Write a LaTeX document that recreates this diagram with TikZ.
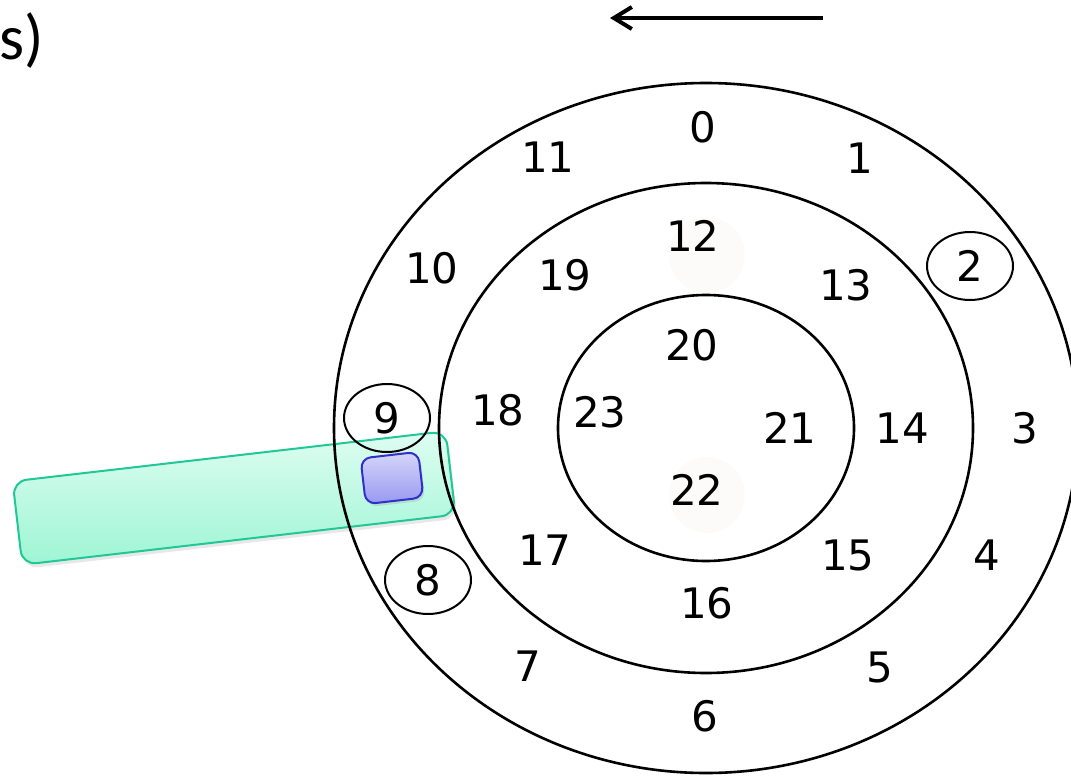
\documentclass[tikz,border=0pt]{standalone}
\usepackage{fontspec}
\setmainfont{DejaVu Sans}
\newfontfamily\calfont{Carlito}
\usetikzlibrary{arrows.meta,shapes.geometric,shadows}
\definecolor{armline}{RGB}{32,200,150}
\definecolor{armtop}{RGB}{222,253,242}
\definecolor{armbot}{RGB}{158,245,212}
\definecolor{headline}{RGB}{48,48,200}
\definecolor{headtop}{RGB}{214,214,250}
\definecolor{headbot}{RGB}{152,152,242}
\definecolor{faint}{RGB}{252,251,249}
\tikzset{
  num/.style={font=\fontsize{21}{24}\selectfont,inner sep=0pt},
  ring/.style={draw,ellipse,line width=1pt,minimum width=43pt,minimum height=34pt},
  spur/.style={line width=1.3pt},
  halo/.style={fill=faint,draw=none},
  arm/.style={draw=armline,line width=1pt,rounded corners=7pt,top color=armtop,
    bottom color=armbot,minimum width=218pt,minimum height=42pt,rotate=6.6,
    drop shadow={opacity=0.18,shadow xshift=1pt,shadow yshift=-2pt}},
  head/.style={draw=headline,line width=1pt,rounded corners=5pt,top color=headtop,
    bottom color=headbot,minimum width=29pt,minimum height=23pt,rotate=6.6,
    drop shadow={opacity=0.2,shadow xshift=1pt,shadow yshift=-1.5pt}},
  nyil/.style={line width=2pt,-{Straight Barb[length=9pt,width=11pt]}},
}
\begin{document}
\begin{tikzpicture}[x=0.5pt,y=-0.5pt]
  \useasboundingbox (0,0) rectangle (1071,776);
  \node[font=\calfont\fontsize{32}{34}\selectfont,anchor=base east,inner sep=0pt]
    (part) at (44,59) {s)};
  % direction of rotation
  \coordinate (arrR) at (823,18);
  \coordinate (arrL) at (610,18);
  \draw[nyil] (arrR) -- (arrL);
  % faint spots
  \fill[halo] (707,255) circle [radius=38];
  \fill[halo] (707,495) circle [radius=38];
  % arm and head
  \node[arm] (arm) at (234,498) {};
  \coordinate (c) at (706,428);
  \draw[spur] (c) ellipse [x radius=372,y radius=345];
  \draw[spur] (c) ellipse [x radius=267,y radius=245];
  \draw[spur] (c) ellipse [x radius=148,y radius=133];
  \node[head] (hd) at (392,478) {};
  % sector numbers
  \foreach \n/\x/\y in {0/703/127,1/860/158,3/1025/428,4/987/555,5/880/667,
      6/705/716,7/528/666,10/432/268,11/548/157,12/693/236,13/846/285,
      14/902/428,15/848/555,16/707/603,17/545/550,18/498/410,19/565/275,
      20/692/345,21/790/428,22/697/490,23/600/412}
    \node[num] (n\n) at (\x,\y) {\n};
  \node[num,ring] (n2) at (970,266) {2};
  \node[num,ring] (n8) at (428,580) {8};
  \node[num,ring] (n9) at (387,418) {9};
\end{tikzpicture}
\end{document}
